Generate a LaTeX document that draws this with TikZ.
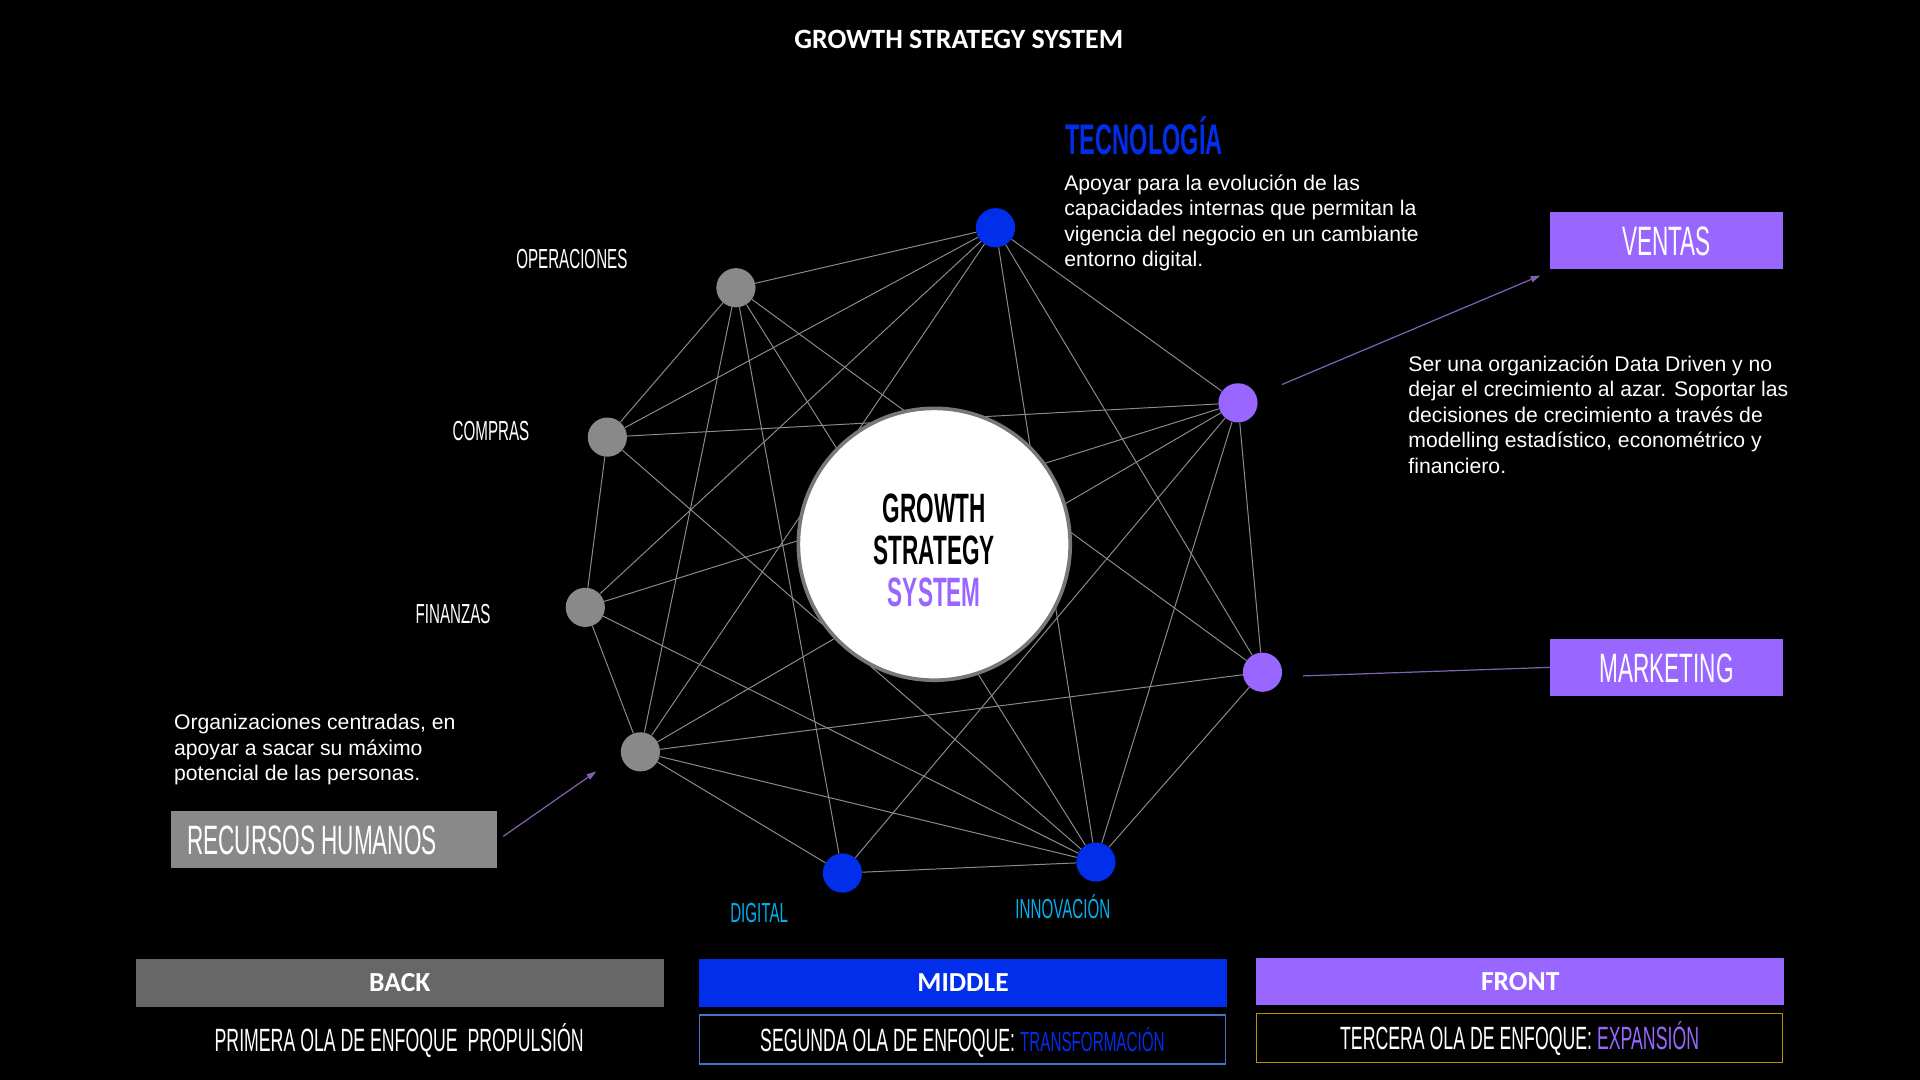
\documentclass[tikz,border=0pt]{standalone}
\usepackage{fontspec}
\setmainfont{Liberation Sans}
\newfontfamily\condfont[FakeStretch=0.55]{Liberation Sans}
\newfontfamily\calfont{Carlito}
\usepackage{xcolor}
\usepackage{tikz}
\usetikzlibrary{arrows.meta}

\definecolor{nodeblue}{RGB}{0,46,235}
\definecolor{nodepurple}{RGB}{153,102,255}
\definecolor{nodegray}{RGB}{137,137,137}
\definecolor{linkgray}{RGB}{140,140,140}
\definecolor{hubgray}{RGB}{120,120,120}
\definecolor{skyblue}{RGB}{0,176,240}
\definecolor{arrowpurple}{RGB}{128,96,176}
\definecolor{backgray}{RGB}{103,103,103}
\definecolor{framegold}{RGB}{192,144,0}
\definecolor{frameblue}{RGB}{68,114,196}

\begin{document}
\begin{tikzpicture}[x=1pt, y=-1pt,
	dotnode/.style={circle, minimum size=32pt, inner sep=0pt},
	linkline/.style={draw=linkgray, line width=0.8pt},
	lbl/.style={text=white, inner sep=0pt, font=\condfont\fontsize{22.5}{27}\selectfont},
	desc/.style={text=white, inner sep=0pt, align=left, font=\fontsize{17.3}{20.8}\selectfont},
	tagbox/.style={minimum width=190pt, minimum height=47pt, inner sep=0pt, text=white, text height=24pt, text depth=0pt, font=\condfont\fontsize{33.5}{40}\selectfont},
	barbox/.style={minimum width=431pt, minimum height=39pt, inner sep=0pt, text=white, font=\calfont\bfseries\fontsize{22.5}{27}\selectfont},
	wavebox/.style={minimum width=430pt, minimum height=40pt, inner sep=0pt, line width=1pt, text=white, text height=18.8pt, text depth=0pt, font=\condfont\fontsize{26.3}{30}\selectfont},
	pointer/.style={draw=arrowpurple, line width=1pt, -{Triangle[length=8pt,width=5pt]}}
]

\fill[black] (0,0) rectangle (1568,882);
\useasboundingbox (0,0) rectangle (1568,882);

\node[text=white, inner sep=0pt, font=\calfont\bfseries\fontsize{22.8}{27}\selectfont] (title) at (783,32) {GROWTH STRATEGY SYSTEM};

% ------------------------------------------------------

\node[dotnode, fill=nodeblue] (tec) at (813,186) {};
\node[dotnode, fill=nodegray] (ops) at (601,235) {};
\node[dotnode, fill=nodegray] (com) at (496,357) {};
\node[dotnode, fill=nodegray] (fin) at (478,496) {};
\node[dotnode, fill=nodegray] (rh) at (523,614) {};
\node[dotnode, fill=nodeblue] (dig) at (688,713) {};
\node[dotnode, fill=nodeblue] (inn) at (895,704) {};
\node[dotnode, fill=nodepurple] (mkt) at (1031,549) {};
\node[dotnode, fill=nodepurple] (ven) at (1011,329) {};

\draw[linkline] (ops)--(tec) (ops)--(com) (ops)--(rh) (ops)--(dig) (ops)--(inn) (ops)--(mkt);
\draw[linkline] (com)--(tec) (com)--(ven) (com)--(fin) (com)--(inn);
\draw[linkline] (fin)--(tec) (fin)--(ven) (fin)--(inn) (fin)--(rh);
\draw[linkline] (rh)--(tec) (rh)--(ven) (rh)--(mkt) (rh)--(inn) (rh)--(dig);
\draw[linkline] (dig)--(ven) (dig)--(inn);
\draw[linkline] (tec)--(inn) (tec)--(ven) (tec)--(mkt);
\draw[linkline] (ven)--(inn) (ven)--(mkt) (mkt)--(inn);

% ------------------------------------------------------

\node[circle, fill=white, draw=hubgray, line width=3pt, minimum size=222pt] (hub) at (763,444.5) {};
\node[align=center, inner sep=0pt, font=\condfont\bfseries\fontsize{33.5}{34.5}\selectfont] (hubtext) at (763,449.4) {GROWTH\\STRATEGY\\\textcolor{nodepurple}{SYSTEM}};

\node[lbl, anchor=base] (opslbl) at (467,219) {OPERACIONES};
\node[lbl, anchor=base] (comlbl) at (401,360) {COMPRAS};
\node[lbl, anchor=base] (finlbl) at (370,509) {FINANZAS};
\node[lbl, anchor=base, text=skyblue] (diglbl) at (620,753) {DIGITAL};
\node[lbl, anchor=base, text=skyblue] (innlbl) at (868,750) {INNOVACIÓN};

% ------------------------------------------------------

\node[anchor=base west, inner sep=0pt, text=nodeblue, font=\condfont\bfseries\fontsize{35}{40}\selectfont] (teclbl) at (870,126) {TECNOLOGÍA};

\node[desc, anchor=north west] (tecdesc) at (869,142.5) {Apoyar para la evolución de las\\capacidades internas que permitan la\\vigencia del negocio en un cambiante\\entorno digital.};

\node[desc, anchor=north west] (vendesc) at (1150,290.4) {Ser una organización Data Driven y no\\dejar el crecimiento al azar. Soportar las\\decisiones de crecimiento a través de\\modelling estadístico, econométrico y\\financiero.};

\node[desc, anchor=north west, font=\fontsize{17.3}{20.5}\selectfont] (rhdesc) at (142,583.4) {Organizaciones centradas, en\\apoyar a sacar su máximo\\potencial de las personas.};

\node[tagbox, fill=nodepurple] (ventag) at (1361,196.5) {VENTAS};
\node[tagbox, fill=nodepurple] (mkttag) at (1361,545) {MARKETING};
\node[tagbox, fill=nodegray, minimum width=266pt] (rhtag) at (273,685.5) {\makebox[240pt][l]{RECURSOS HUMANOS}};

\coordinate (venstart) at (1047,314);
\coordinate (venend) at (1258,225);
\draw[pointer] (venstart) -- (venend);

\coordinate (mktstart) at (1064,552);
\draw[draw=arrowpurple, line width=1pt] (mktstart) -- (mkttag.west);

\coordinate (rhstart) at (411,683);
\coordinate (rhend) at (487,630);
\draw[pointer] (rhstart) -- (rhend);

% ------------------------------------------------------

\node[barbox, fill=backgray] (back) at (326.5,802.5) {BACK};
\node[barbox, fill=nodeblue] (middle) at (786.5,802.5) {MIDDLE};
\node[barbox, fill=nodepurple] (front) at (1241.5,801.5) {FRONT};

\node[wavebox] (wave1) at (326,849) {PRIMERA OLA DE ENFOQUE\ \ PROPULSIÓN};
\node[wavebox, draw=frameblue] (wave2) at (786,849) {SEGUNDA OLA DE ENFOQUE: {\fontsize{22.6}{27}\selectfont\color{nodeblue}TRANSFORMACIÓN}};
\node[wavebox, draw=framegold] (wave3) at (1241,848) {TERCERA OLA DE ENFOQUE: \textcolor{nodepurple}{EXPANSIÓN}};

\end{tikzpicture}
\end{document}
